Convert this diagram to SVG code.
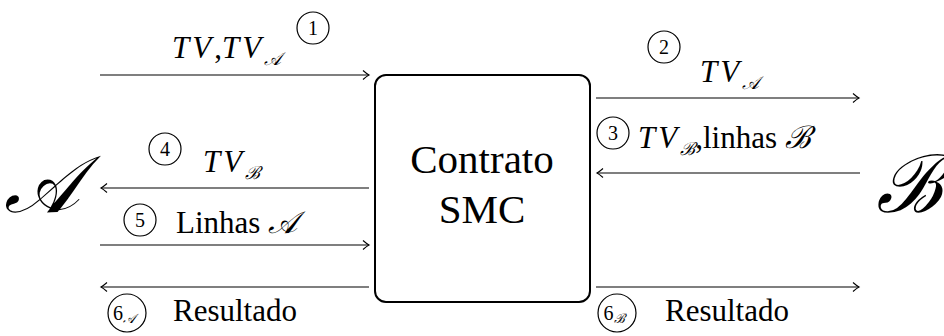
<svg xmlns="http://www.w3.org/2000/svg" width="944" height="336" viewBox="0 0 944 336">
<style>
text{font-family:"Liberation Serif","DejaVu Serif",serif;fill:#000}
.t{font-size:31px}
.i{font-style:italic}
.tv{font-style:italic;letter-spacing:3px}
.s{font-style:italic;font-size:18px;letter-spacing:0}
.n{font-size:20px;text-anchor:middle}
.sn{font-size:13px;font-style:italic}
.c{fill:none;stroke:#000;stroke-width:1.2}
.big{font-style:italic;font-size:80px}
.box{font-size:41px;text-anchor:middle}
</style>
<defs>
<marker id="ah" markerWidth="12" markerHeight="12" refX="0" refY="0" viewBox="-8 -6 10 12" orient="auto" markerUnits="userSpaceOnUse">
<path d="M-6,-4.5 Q-2,-1 0,0 Q-2,1 -6,4.5" fill="none" stroke="#000" stroke-width="1.1"/>
</marker>
</defs>
<g id="A"><text class="big" x="4" y="212">𝒜</text></g>
<g id="B"><text class="big" x="876" y="212">ℬ</text></g>
<g id="smc">
<rect x="375" y="75" width="215" height="227" rx="11" fill="#fff" stroke="#000" stroke-width="2"/>
<text class="box" x="482" y="173">Contrato</text>
<text class="box" x="482" y="223">SMC</text>
</g>
<g id="connectors" stroke="#000" stroke-width="1.2" fill="none">
<line x1="100" y1="75" x2="369" y2="75" marker-end="url(#ah)"/>
<line x1="369" y1="188" x2="101" y2="188" marker-end="url(#ah)"/>
<line x1="100" y1="245" x2="369" y2="245" marker-end="url(#ah)"/>
<line x1="369" y1="287" x2="101" y2="287" marker-end="url(#ah)"/>
<line x1="596" y1="98" x2="859" y2="98" marker-end="url(#ah)"/>
<line x1="860" y1="173" x2="597" y2="173" marker-end="url(#ah)"/>
<line x1="596" y1="287" x2="859" y2="287" marker-end="url(#ah)"/>
</g>
<g id="labels">
<g id="m1">
<text class="t" y="58"><tspan class="tv" x="172">TV</tspan><tspan>,</tspan><tspan class="tv">TV</tspan><tspan class="s" y="65">𝒜</tspan></text>
<circle class="c" cx="313" cy="28" r="16"/><text class="n" x="313" y="35">1</text>
</g>
<g id="m2">
<text class="t" y="82"><tspan class="tv" x="700">TV</tspan><tspan class="s" y="89">𝒜</tspan></text>
<circle class="c" cx="664" cy="47" r="16"/><text class="n" x="664" y="54">2</text>
</g>
<g id="m3">
<text class="t" y="148"><tspan class="tv" x="638">TV</tspan><tspan class="s" y="155">ℬ</tspan><tspan y="148">,linhas </tspan><tspan class="i">ℬ</tspan></text>
<circle class="c" cx="613" cy="133" r="16"/><text class="n" x="613" y="140">3</text>
</g>
<g id="m4">
<text class="t" y="172"><tspan class="tv" x="203">TV</tspan><tspan class="s" y="179">ℬ</tspan></text>
<circle class="c" cx="165" cy="149" r="16"/><text class="n" x="165" y="156">4</text>
</g>
<g id="m5">
<text class="t" x="176" y="233">Linhas <tspan class="i">𝒜</tspan></text>
<circle class="c" cx="140" cy="220" r="16"/><text class="n" x="140" y="227">5</text>
</g>
<g id="m6a">
<text class="t" x="173" y="321">Resultado</text>
<circle class="c" cx="127" cy="313" r="19"/><text class="n" x="124" y="320">6<tspan class="sn" dy="3">𝒜</tspan></text>
</g>
<g id="m6b">
<text class="t" x="665" y="321">Resultado</text>
<circle class="c" cx="617" cy="313" r="19"/><text class="n" x="614" y="320">6<tspan class="sn" dy="3">ℬ</tspan></text>
</g>
</g>
</svg>
